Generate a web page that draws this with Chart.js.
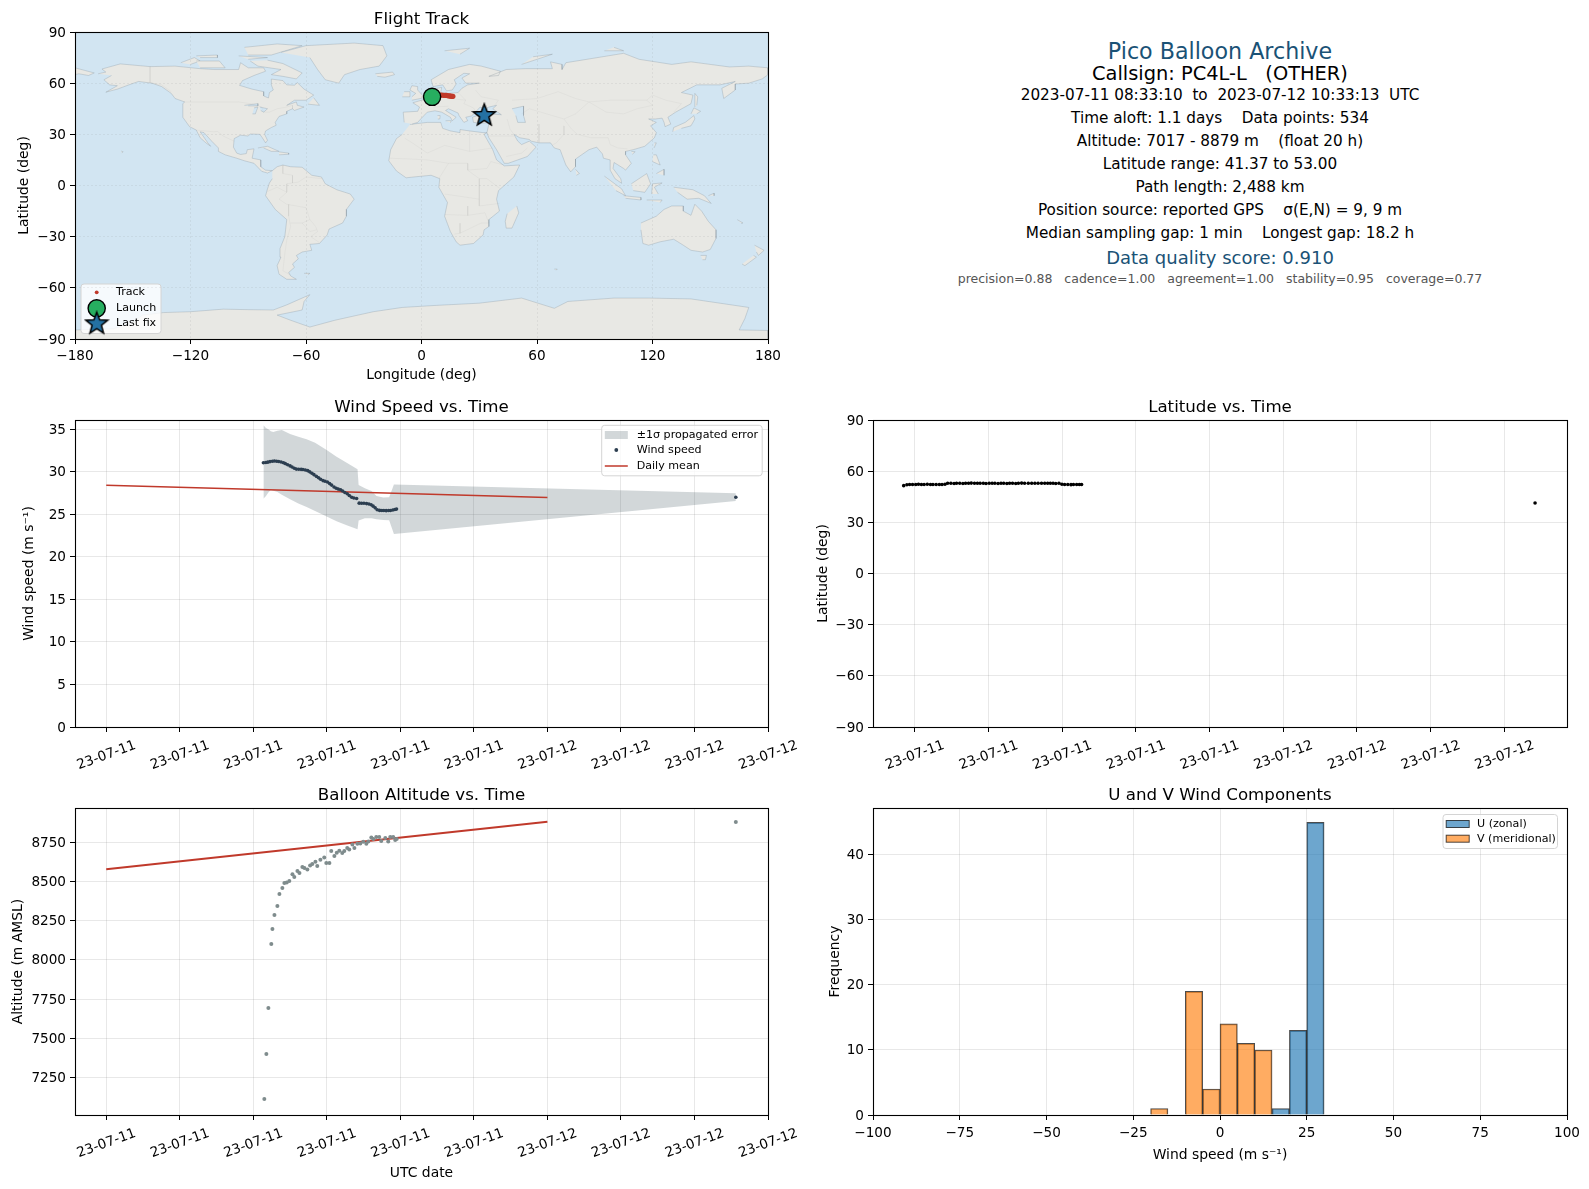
<!DOCTYPE html>
<html>
<head>
<meta charset="utf-8">
<title>Pico Balloon Archive</title>
<script src="https://cdn.jsdelivr.net/npm/chart.js@4/dist/chart.umd.js"></script>
<style>
  body { margin: 0; background: #fff; width: 1589px; height: 1189px; position: relative; overflow: hidden; font-family: "DejaVu Sans", sans-serif; }
  canvas { position: absolute; }
  .info { position: absolute; left: 820px; width: 800px; text-align: center; white-space: pre; transform: translateY(-50%); color: #000; font-size: 15.25px; }
</style>
</head>
<body>
<canvas id="mapChart" width="800" height="392" style="left:0;top:0"></canvas>
<canvas id="windChart" width="800" height="392" style="left:0;top:388px"></canvas>
<canvas id="latChart" width="789" height="392" style="left:800px;top:388px"></canvas>
<canvas id="altChart" width="800" height="413" style="left:0;top:776px"></canvas>
<canvas id="histChart" width="789" height="413" style="left:800px;top:776px"></canvas>

<div class="info" style="top:51px;font-size:22.2px;color:#1a5276">Pico Balloon Archive</div>
<div class="info" style="top:73px;font-size:19.4px">Callsign: PC4L-L   (OTHER)</div>
<div class="info" style="top:95px">2023-07-11 08:33:10  to  2023-07-12 10:33:13  UTC</div>
<div class="info" style="top:118px">Time aloft: 1.1 days    Data points: 534</div>
<div class="info" style="top:141px">Altitude: 7017 - 8879 m    (float 20 h)</div>
<div class="info" style="top:164px">Latitude range: 41.37 to 53.00</div>
<div class="info" style="top:187px">Path length: 2,488 km</div>
<div class="info" style="top:210px">Position source: reported GPS    σ(E,N) = 9, 9 m</div>
<div class="info" style="top:233px">Median sampling gap: 1 min    Longest gap: 18.2 h</div>
<div class="info" style="top:257px;font-size:18px;color:#1a5276">Data quality score: 0.910</div>
<div class="info" style="top:278px;font-size:12.5px;color:#555">precision=0.88   cadence=1.00   agreement=1.00   stability=0.95   coverage=0.77</div>

<script>
// --- Ticks ---
const lonTicks = [-180, -120, -60, 0, 60, 120, 180];
const latTicks = [-90, -60, -30, 0, 30, 60, 90];
const windTicks = [0, 5, 10, 15, 20, 25, 30, 35];
const altTicks = [7250, 7500, 7750, 8000, 8250, 8500, 8750];
const freqTicks = [0, 10, 20, 30, 40];
const histTicks = [-100, -75, -50, -25, 0, 25, 50, 75, 100];
// hours since 2023-07-11 00:00 UTC
const wideTimeTicks = [0, 4, 8, 12, 16, 20, 24, 28, 32, 36];
const wideTimeLabels = ['23-07-11', '23-07-11', '23-07-11', '23-07-11', '23-07-11', '23-07-11', '23-07-12', '23-07-12', '23-07-12', '23-07-12'];
const latTimeTicks = [9, 12, 15, 18, 21, 24, 27, 30, 33];
const latTimeLabels = ['23-07-11', '23-07-11', '23-07-11', '23-07-11', '23-07-11', '23-07-12', '23-07-12', '23-07-12', '23-07-12'];

// --- Flight data ---
const trackLon = [5.5, 7.0, 8.5, 9.5, 10.5, 11.5, 12.3, 13.0, 13.8, 14.5, 15.2, 15.8, 16.3];
const trackLat = [52.0, 52.4, 52.8, 53.0, 53.0, 52.9, 52.9, 52.8, 52.6, 52.6, 52.4, 52.3, 52.3];
const launchPoint = [5.5, 52.0];
const lastFixPoint = [32.6, 41.37];

const sampleHours = [8.55, 8.68, 8.79, 8.91, 9.04, 9.15, 9.27, 9.38, 9.51, 9.64, 9.74, 9.87, 10.0, 10.11, 10.23, 10.34, 10.47, 10.6, 10.7, 10.83, 10.96, 11.07, 11.19, 11.3, 11.43, 11.55, 11.66, 11.79, 11.9, 12.03, 12.15, 12.26, 12.39, 12.51, 12.62, 12.75, 12.86, 12.98, 13.11, 13.22, 13.35, 13.47, 13.62, 13.76, 13.89, 14.02, 14.16, 14.29, 14.41, 14.52, 14.63, 14.74, 14.87, 14.99, 15.1, 15.23, 15.36, 15.46, 15.59, 15.7, 15.79, 34.25];
const windSpeed = [31.05, 31.08, 31.12, 31.18, 31.22, 31.25, 31.22, 31.2, 31.14, 31.05, 30.95, 30.82, 30.68, 30.55, 30.4, 30.3, 30.28, 30.27, 30.26, 30.2, 30.12, 29.98, 29.82, 29.65, 29.45, 29.28, 29.1, 28.95, 28.88, 28.78, 28.6, 28.42, 28.2, 28.05, 27.95, 27.88, 27.72, 27.55, 27.4, 27.2, 27.0, 26.9, 26.85, 26.3, 26.28, 26.28, 26.25, 26.2, 26.12, 25.95, 25.75, 25.52, 25.45, 25.43, 25.43, 25.42, 25.43, 25.44, 25.5, 25.55, 25.6, 27.0];
const latitude = [51.5, 52.0, 52.2, 52.2, 52.2, 52.3, 52.2, 52.2, 52.3, 52.2, 52.2, 52.2, 52.2, 52.2, 52.3, 52.9, 52.9, 52.8, 52.9, 52.9, 52.8, 52.9, 52.9, 53.0, 52.9, 52.9, 52.9, 52.9, 52.8, 52.9, 52.9, 52.9, 52.8, 52.9, 52.9, 52.8, 52.9, 52.9, 52.8, 52.9, 53.0, 52.9, 52.9, 52.9, 52.9, 52.9, 52.9, 52.9, 52.9, 52.9, 52.9, 52.8, 52.9, 52.3, 52.2, 52.2, 52.1, 52.2, 52.2, 52.2, 52.2, 41.37];

const bandHours = [8.55, 8.69, 8.82, 8.95, 9.09, 9.31, 9.55, 10.0, 10.45, 10.9, 11.36, 11.99, 12.53, 13.08, 13.67, 13.73, 14.07, 14.43, 14.7, 15.07, 15.39, 15.65, 34.25];
const bandHigh = [35.44, 35.13, 34.97, 34.74, 34.66, 34.81, 34.89, 34.42, 34.11, 33.8, 33.41, 32.55, 31.76, 31.06, 30.28, 28.44, 28.05, 27.73, 27.15, 26.95, 26.99, 28.48, 27.45];
const bandLow = [26.83, 27.15, 27.54, 27.85, 27.77, 27.62, 27.3, 26.76, 26.25, 25.86, 25.39, 24.72, 24.17, 23.7, 23.24, 24.25, 24.53, 24.53, 24.41, 24.33, 24.29, 22.69, 26.55];

const meanHours = [0, 24];
const meanWind = [28.39, 26.96];
const meanAlt = [8578, 8881];

const altHours = [8.60, 8.71, 8.82, 8.98, 9.04, 9.15, 9.31, 9.42, 9.58, 9.69, 9.82, 9.96, 10.13, 10.23, 10.40, 10.51, 10.67, 10.78, 10.94, 11.09, 11.21, 11.38, 11.48, 11.65, 11.86, 11.97, 12.14, 12.24, 12.41, 12.54, 12.68, 12.84, 12.95, 13.11, 13.22, 13.39, 13.50, 13.66, 13.82, 13.98, 14.15, 14.26, 14.42, 14.53, 14.69, 14.85, 14.96, 15.18, 15.34, 15.45, 15.61, 15.72, 15.80, 34.25];
const altitude = [7113, 7400, 7693, 8101, 8196, 8286, 8343, 8420, 8458, 8490, 8493, 8502, 8545, 8528, 8566, 8553, 8592, 8585, 8576, 8602, 8611, 8625, 8598, 8638, 8653, 8617, 8617, 8694, 8662, 8683, 8695, 8681, 8694, 8713, 8704, 8736, 8713, 8740, 8742, 8753, 8740, 8755, 8780, 8770, 8783, 8783, 8757, 8776, 8755, 8783, 8783, 8764, 8770, 8878];

const uBinCentres = [17.5, 22.5, 27.5];
const uCounts = [1, 13, 45];
const vBinCentres = [-17.5, -7.5, -2.5, 2.5, 7.5, 12.5];
const vCounts = [1, 19, 4, 14, 11, 10];

// --- Map outlines [lon, lat] ---
const northAmerica = [[-168,65.5],[-164,66.5],[-166,68.3],[-156.5,71.3],[-141,69.7],[-128,70],[-115,68.5],[-108,68],[-95,68],[-94,72],[-90,69],[-82,69],[-81,67],[-87,64.5],[-93,61.5],[-94.5,58.7],[-88,56.5],[-82,55],[-82,52.5],[-79.5,51.3],[-79,54.5],[-77,56],[-78,59],[-78,62.4],[-72,61.5],[-70,59],[-66,58.8],[-64.5,60.3],[-61,56.5],[-56,53],[-60,50],[-66,50],[-70,47],[-65,49],[-64.5,47],[-61,46],[-66,44],[-67,45],[-70,43.5],[-70,42],[-74,40.5],[-76,37],[-75.5,35.3],[-78,34],[-81,32],[-81.5,30],[-80,26.5],[-81,25],[-82.7,28],[-84,30],[-89,30.2],[-90,29],[-94,29.5],[-97.3,27.5],[-97.7,22.5],[-96,19],[-94,18.2],[-91,18.7],[-90.5,21],[-87,21.5],[-88,16],[-83.5,15],[-83.5,11],[-81,9],[-77.5,8.7],[-80,7.3],[-83,8.3],[-87,13],[-92,14.5],[-96,16],[-102,18],[-105.5,20],[-105.5,22],[-109,26],[-113,31],[-115,31.5],[-111,25],[-109.5,23],[-112,25],[-115,28],[-117,32.5],[-120.5,34.5],[-124,40],[-124,48],[-123,49],[-128,51],[-130,54],[-135,58],[-140,60],[-147,61],[-152,59],[-158,56.5],[-164,54.7],[-158,58.5],[-162,59],[-165,62],[-161,64.5]];
const southAmerica = [[-77.5,8.7],[-75,11],[-72,12],[-68,11],[-62,10.7],[-57,6],[-52,5],[-50,1],[-44,-2.5],[-37,-5],[-35,-8],[-39,-14],[-39,-18],[-41,-22],[-48,-25.5],[-49,-29],[-53,-34],[-58,-34.5],[-57,-38],[-62,-39],[-65,-41],[-64,-43],[-67,-46],[-66,-48],[-69,-51],[-68,-53],[-65,-55],[-70,-55],[-74,-52],[-75,-47],[-73,-42],[-73.5,-37],[-71,-30],[-70,-20],[-76,-14],[-81,-6],[-80,-2],[-79,1.5],[-77.5,4]];
const greenland = [[-73,78],[-60,82],[-35,83.5],[-20,82],[-18,76],[-22,70],[-32,68],[-40,65],[-43,60],[-50,62],[-54,68],[-58,75]];
const baffin = [[-80,73.5],[-72,71.5],[-62,66],[-65,62.5],[-72,64],[-78,65],[-73,68],[-85,70],[-89,73]];
const victoriaIsland = [[-117,73],[-105,73],[-102,69],[-115,69]];
const ellesmere = [[-90,76.5],[-78,76.5],[-62,82],[-75,83],[-92,81]];
const banksIsland = [[-125,72],[-118,75],[-115,73],[-120,71]];
const devonIsland = [[-95,76],[-80,75],[-90,74]];
const melvilleIsland = [[-117,76],[-106,76.5],[-106,75],[-115,75]];
const newfoundland = [[-59,47.7],[-53,47],[-56,51.5]];
const cuba = [[-85,22],[-80,23],[-74,20],[-78,20],[-82,22]];
const hispaniola = [[-74,19.7],[-69,19],[-69,18.3],[-74,18]];
const chukotkaEdge = [[-180,69],[-175,67.5],[-170,66],[-173,64.5],[-178,65.5],[-180,65]];
const eurasia = [[-9,37],[-9.5,43],[-2,43.5],[-1,46],[-4.5,48.5],[1.5,50.5],[4,52],[8,54],[8,57],[10.5,57.5],[10,54.5],[14,54],[19,54.5],[21,57],[24,59],[30,60],[23,60],[21,63],[25,65.5],[22,65.8],[17,62],[18,59.5],[16,56],[13,55.5],[11,59],[6,58],[5,62],[14,68],[25,71],[31,70],[41,67],[40,64.5],[35,64],[44,68],[54,68.5],[68,68.5],[67,72.5],[73,71],[73,68],[75,72],[86,74],[105,77.5],[113,74],[130,71],[140,72.5],[160,69.5],[170,70],[180,69],[180,65],[177,62.5],[170,60],[163,59.5],[163,56],[157,51],[156,57],[163,61],[155,59],[143,59],[135,54.5],[141,53],[140,48],[132,43],[128,40],[129.5,36],[126.5,34.5],[126,37],[125,39.5],[121.5,39],[118,39],[122,37],[119,35],[122,31],[121,28],[116,23],[110,21],[106,20],[106,18],[109,13],[106,9],[105,10],[100,13.5],[99.5,10],[103.5,4],[104,1.3],[100.5,4],[98,9],[98,15],[94.5,16],[94,18.5],[91,22.5],[87,21],[80,15.5],[80,11],[77.5,8],[75,12],[73,18],[72,21],[69,22],[67,25],[61,25],[57,26],[56,27],[51,28],[48,30],[50,26],[52,24],[56,26],[59.5,22.5],[55,17],[45,13],[43,13],[39,21],[35,28],[34,31],[35,36],[36,37],[31,36.5],[27,37],[26.5,40],[29,41],[35,42],[41.5,41.5],[37,45],[39,47],[35,46],[33,45],[30.5,46],[28,43],[26,40.8],[23,40],[24,38],[22,37],[19.5,41],[19,42.5],[14,45],[12.5,44],[18,40],[16,38],[15,40],[10.5,43],[7,43.8],[3,43],[0,39.5],[-2,37],[-5,36]];
const africa = [[-6,35.8],[3,37],[10,37],[11,33.5],[15,32],[20,31],[20,32.8],[25,32],[32,31],[34,31],[32.5,30],[34,27],[37,21],[39,15],[43,11.5],[51,12],[48,5],[40,-3],[39,-8],[40.5,-15],[35,-20],[35,-24],[32.5,-26],[32,-29],[27,-34],[20,-35],[18,-33],[15,-27],[12,-18],[13.5,-10],[9,-1],[9.5,4],[5,6],[-4,5],[-8,4.5],[-13,8.5],[-17,14.5],[-16,21],[-13,27.5],[-10,30]];
const madagascar = [[49.5,-12],[50.5,-16],[47,-25],[44,-25],[43.5,-21],[44.5,-16.5]];
const australia = [[114,-22],[122,-18],[126,-14],[130,-12],[136,-12],[136,-15],[140,-17.5],[142,-11],[145.5,-15],[149,-21],[153,-26],[153,-31],[150,-37.5],[146,-39],[140,-38],[136,-35],[131,-31.5],[124,-33],[118,-35],[115,-34],[114,-26]];
const tasmania = [[145,-41],[148,-41],[147.5,-43.5],[146,-43.5]];
const nzNorth = [[173,-35],[178,-38],[175,-41],[174,-39]];
const nzSouth = [[172.5,-41],[174,-42],[168,-47],[166.5,-46]];
const newGuinea = [[131,-1],[141,-2.5],[147,-6],[150.5,-10.5],[144,-7.5],[138,-8],[133,-4]];
const newBritain = [[149,-6],[152,-4.5],[152,-6]];
const borneo = [[109,1],[117,7],[119,1],[116,-4],[110,-3]];
const sumatra = [[95,5.5],[104,-2],[106,-6],[101,-3]];
const java = [[105,-6],[114,-7],[114,-8.5],[106,-7.5]];
const timor = [[117,-8.5],[125,-8.5],[124,-10]];
const sulawesi = [[119.5,-5],[120,1],[125,1.5],[121,-1],[123,-5]];
const luzon = [[120.5,18],[122,18],[124,12],[120,14]];
const mindanao = [[122,7],[126,9.5],[126,6]];
const honshu = [[130.5,31.5],[131,34],[137,37],[141.5,41],[142,39],[140,35],[135,33.5]];
const hokkaido = [[140,42],[141.5,45.5],[145,43.5],[143,42]];
const sakhalin = [[142,46],[142,54],[143.5,52],[143,47]];
const sriLanka = [[80,9.5],[82,7],[80.5,6]];
const taiwan = [[121,25],[122,25],[120.8,22]];
const hainan = [[109,20],[111,19.8],[109.5,18.3]];
const britain = [[-5,50],[1.5,51.5],[0,53.5],[-2,56],[-2,58],[-5,58.5],[-6,56],[-3,54],[-5,52]];
const ireland = [[-10,52],[-6,52],[-6,55],[-9,55]];
const iceland = [[-24,65.5],[-15,66.5],[-14,65],[-19,63.5],[-23,64]];
const svalbard = [[12,79],[25,80.5],[20,77]];
const novayaZemlya = [[52,71],[68,77],[58,75.5]];
const severnaya = [[95,79],[105,79],[100,81]];
const sicily = [[12.5,38],[15.5,38],[15,36.8]];
const sardinia = [[8.3,41],[9.7,41],[9.5,39],[8.5,39]];
const hawaii = [[-156,20.2],[-155,19.8],[-155.7,19]];
const falkland = [[-61,-51.5],[-58,-51.5],[-59,-52.3]];
const newCaledonia = [[164,-20],[167,-22],[166,-22.2]];
const kerguelen = [[69,-49],[70.5,-49],[70,-49.7]];
const antarctica = [[-180,-90],[-180,-84.7],[-160,-84],[-150,-80],[-145,-76],[-134,-74.5],[-120,-74],[-103,-72.5],[-90,-72.8],[-77,-73],[-70,-70],[-58,-64],[-61,-68],[-62,-73],[-75,-76],[-68,-79],[-58,-83],[-45,-79],[-37,-77],[-25,-74],[-10,-71.5],[7.5,-70.3],[30,-69],[52,-66],[69,-72],[76,-68],[100,-66],[118,-66],[140,-66.5],[170,-71.5],[168,-78],[165,-84.7],[180,-85],[180,-90]];
const caspianSea = [[47,45],[53,46.5],[53,41],[54,37],[50,37],[49,41]];
const lakeSuperior = [[-92,47],[-85,48],[-85,46.7],[-90,46.7]];
const lakeMichigan = [[-87.8,42],[-86.3,42],[-85,46],[-87,45.5]];
const lakeHuron = [[-84,46],[-80,45],[-82,43],[-83.5,44]];
const landShapes = [northAmerica, southAmerica, greenland, baffin, victoriaIsland, ellesmere, banksIsland, devonIsland, melvilleIsland, newfoundland, cuba, hispaniola, chukotkaEdge, eurasia, africa, madagascar, australia, tasmania, nzNorth, nzSouth, newGuinea, newBritain, borneo, sumatra, java, timor, sulawesi, luzon, mindanao, honshu, hokkaido, sakhalin, sriLanka, taiwan, hainan, britain, ireland, iceland, svalbard, novayaZemlya, severnaya, sicily, sardinia, hawaii, falkland, newCaledonia, kerguelen, antarctica];
const waterShapes = [caspianSea, lakeSuperior, lakeMichigan, lakeHuron];
const borderLines = [
  [[-141,69.7],[-141,60.3],[-135,59],[-130,55]],
  [[-123,49],[-95,49],[-89,48],[-83,46],[-82,43],[-79,43],[-75,45],[-70,46],[-67,47],[-67,45]],
  [[-117,32.5],[-108,31.5],[-106,31.7],[-103,29],[-97.3,26]],
  [[-51.5,4],[-60,5],[-64,2],[-70,1],[-70,-4],[-74,-8],[-70,-11],[-60,-13],[-58,-20],[-55,-24],[-54,-27],[-57.5,-30],[-53,-33.5]],
  [[-69,-18],[-68,-24],[-70,-32],[-71,-40],[-72,-50],[-68,-52.5]],
  [[-72,12],[-72,7],[-67,6],[-67,1.5]],
  [[-80,-3.5],[-75,-1],[-70,-4]],
  [[-69,-11],[-69,-18]],
  [[-68,-22],[-62,-22],[-58,-20]],
  [[-62,-22],[-58,-27],[-54.5,-26]],
  [[-8.7,27.7],[-4.8,25],[3,19],[12,23.5],[25,20],[25,32]],
  [[25,20],[37,22]],
  [[-16.5,16],[-5,15.5],[3,15],[14,13],[24,13],[24,9],[34,10],[36,14],[43,12]],
  [[14,13],[9,4]],
  [[24,9],[30,4],[34,4],[41,-2]],
  [[12,-5],[30,-8],[30,-12],[40.5,-10.5]],
  [[12,-17],[24,-17.5],[33,-16],[35,-22],[31,-22],[20,-28],[17,-28.5]],
  [[20,-22],[20,-28]],
  [[24,-12],[24,-17.5]],
  [[30,4],[30,-8]],
  [[28,56],[31,52],[40,50],[38,47]],
  [[47,50],[60,51],[71,55],[80,51],[87,49],[98,50],[107,50],[117,50],[120,53],[127,50],[135,48],[131,43]],
  [[87,49],[96,43],[105,42],[112,45],[120,47],[117,50]],
  [[74,39],[80,42],[87,49]],
  [[74,39],[78,33],[81,30],[88,28],[97,28],[98,24],[102,22],[107,21.5]],
  [[74,35],[74,30],[70,25],[68,23.7]],
  [[44.5,39],[46,33],[48,30]],
  [[61,36],[61,25.2]],
  [[52,42],[56,45],[62,43],[68,41],[74,39]],
  [[19,54.5],[23,50],[22,48],[27,45.5],[28,43.8]],
  [[8,48],[8,54]],
  [[6,46],[14,46.5]],
  [[14,54],[15,51],[23,50]],
  [[35,29],[45,29],[48,29]],
  [[44,17],[52,19],[55,22]]
];

// --- Helpers ---
const toPoints = (xs, ys) => xs.map((x, i) => ({ x, y: ys[i] }));
const toShape = pairs => pairs.map(([x, y]) => ({ x, y }));
const INK = '#000';
const FONT = '"DejaVu Sans"';
const TICK_SIZE = 13.6;
const LABEL_SIZE = 13.9;
const GRID = 'rgba(128,128,128,0.18)';
const MAP_GRID = { z: 1, color: 'rgba(128,128,128,0.2)', lineWidth: 0.6 };
const BAND_FILL = 'rgba(52,73,80,0.22)';

// five point star for the last fix, Chart.js only has a line one
const starMarker = (() => {
  const c = document.createElement('canvas');
  c.width = 26; c.height = 26;
  const g = c.getContext('2d');
  g.beginPath();
  for (let i = 0; i < 10; i++) {
    const r = i % 2 ? 4.9 : 11.6;
    const a = -Math.PI / 2 + i * Math.PI / 5;
    g[i ? 'lineTo' : 'moveTo'](13 + r * Math.cos(a), 13.5 + r * Math.sin(a));
  }
  g.closePath();
  g.fillStyle = '#2471a3';
  g.fill();
  g.lineWidth = 1.5;
  g.strokeStyle = '#000';
  g.stroke();
  return c;
})();

const legendSymbol = (g, kind, x, y) => {
  g.save();
  if (kind === 'track') {
    g.fillStyle = '#c0392b';
    g.beginPath(); g.arc(x, y, 1.9, 0, 7); g.fill();
  } else if (kind === 'launch') {
    g.fillStyle = '#27ae60'; g.strokeStyle = '#000'; g.lineWidth = 1.4;
    g.beginPath(); g.arc(x, y, 8.6, 0, 7); g.fill(); g.stroke();
  } else if (kind === 'star') {
    g.drawImage(starMarker, x - 13, y - 13);
  } else if (kind === 'band') {
    g.fillStyle = BAND_FILL;
    g.fillRect(x - 11.5, y - 4, 23, 8);
  } else if (kind === 'wind') {
    g.fillStyle = '#2c3e50';
    g.beginPath(); g.arc(x, y, 1.9, 0, 7); g.fill();
  } else if (kind === 'mean') {
    g.strokeStyle = '#c0392b'; g.lineWidth = 1.5;
    g.beginPath(); g.moveTo(x - 11.5, y); g.lineTo(x + 11.5, y); g.stroke();
  } else {
    g.fillStyle = kind === 'u' ? 'rgba(31,119,180,0.65)' : 'rgba(255,127,14,0.65)';
    g.strokeStyle = 'rgba(0,0,0,0.7)'; g.lineWidth = 1;
    g.fillRect(x - 11.5, y - 3.5, 23, 7);
    g.strokeRect(x - 11.5, y - 3.5, 23, 7);
  }
  g.restore();
};

// legend boxes sit inside the plot, in chart-local pixels
const legendPlugin = {
  id: 'boxLegend',
  afterDatasetsDraw(chart, args, opts) {
    if (!opts.items) return;
    const g = chart.ctx;
    g.save();
    g.beginPath();
    g.roundRect(opts.x, opts.y, opts.w, opts.h, 3);
    g.fillStyle = 'rgba(255,255,255,0.8)';
    g.fill();
    g.strokeStyle = '#d4d4d4';
    g.lineWidth = 1;
    g.stroke();
    g.font = `11.1px ${FONT}`;
    g.fillStyle = INK;
    g.textBaseline = 'middle';
    opts.items.forEach(it => {
      legendSymbol(g, it.kind, opts.symbolX, it.y);
      g.fillText(it.label, opts.textX, it.y);
    });
    g.restore();
  }
};

const framePlugin = {
  id: 'frame',
  beforeDraw(chart, args, opts) {
    const { left, top, width, height } = chart.chartArea;
    if (opts.background) {
      chart.ctx.fillStyle = opts.background;
      chart.ctx.fillRect(left, top, width, height);
    }
    // tick labels are centred on the tick and not hung from their end
    const sx = chart.scales.x;
    if (opts.labelDrop) {
      sx.getLabelItems().forEach(item => {
        item.textOffset = 0;
        item.options.textAlign = 'center';
        item.options.textBaseline = 'middle';
        item.options.translation = [item.options.translation[0] + 3, sx.top + opts.labelDrop];
      });
    }
    chart.scales.y.getLabelItems().forEach(item => {
      item.options.translation = [item.options.translation[0], item.options.translation[1] + 1];
    });
  },
  afterDraw(chart) {
    const { left, top, width, height } = chart.chartArea;
    const g = chart.ctx;
    g.save();
    g.strokeStyle = INK;
    g.lineWidth = 1.1;
    g.strokeRect(left + 0.5, top + 0.5, width, height);
    g.restore();
  }
};

const xScale = ({ min, max, ticks, labels, rotate, bottomSpace, title, titleGap, grid, dash, tickGap }) => ({
  type: 'linear',
  min, max,
  offset: false,
  afterBuildTicks: s => { s.ticks = ticks.map(value => ({ value })); },
  afterFit: s => { s.height = bottomSpace; s.paddingLeft = 0; s.paddingRight = 0; },
  ticks: {
    color: INK,
    autoSkip: false,
    font: { family: FONT, size: TICK_SIZE },
    padding: tickGap || 4,
    minRotation: rotate ? 20 : 0,
    maxRotation: rotate ? 20 : 0,
    callback: (v, i) => labels ? labels[i] : String(v).replace('-', '\u2212')
  },
  grid: Object.assign({ color: GRID, lineWidth: 1, tickColor: INK, tickLength: 5, tickWidth: 1, offset: false }, grid),
  border: { display: false, dash: dash || [] },
  title: title ? { display: true, text: title, color: INK, font: { family: FONT, size: LABEL_SIZE }, padding: { top: titleGap, bottom: titleGap } } : { display: false }
});

const yScale = ({ min, max, ticks, leftSpace, title, titleGap, grid, dash }) => ({
  type: 'linear',
  min, max,
  afterBuildTicks: s => { s.ticks = ticks.map(value => ({ value })); },
  afterFit: s => { s.width = leftSpace; s.paddingTop = 0; s.paddingBottom = 0; },
  ticks: {
    color: INK,
    autoSkip: false,
    font: { family: FONT, size: TICK_SIZE },
    padding: 4,
    callback: v => String(v).replace('-', '\u2212')
  },
  grid: Object.assign({ color: GRID, lineWidth: 1, tickColor: INK, tickLength: 5, tickWidth: 1 }, grid),
  border: { display: false, dash: dash || [] },
  title: { display: true, text: title, color: INK, font: { family: FONT, size: LABEL_SIZE }, padding: { top: titleGap, bottom: titleGap } }
});

const baseOptions = (title, rightSpace, scales, extra) => ({
  responsive: false,
  devicePixelRatio: 1,
  animation: false,
  layout: { padding: { left: 0, right: rightSpace, top: 0, bottom: 0 } },
  scales,
  plugins: Object.assign({
    legend: { display: false },
    tooltip: { enabled: false },
    title: {
      display: true,
      text: title,
      color: INK,
      fullSize: false,
      font: { family: FONT, size: 16.67, weight: 'normal', lineHeight: 1.2 },
      padding: { top: 9.5, bottom: 32 - 9.5 - 16.67 * 1.2 }
    }
  }, extra)
});

// --- Flight track map ---
const landSets = landShapes.map(shape => ({
  data: toShape(shape), showLine: true, fill: 'shape', pointRadius: 0, tension: 0,
  backgroundColor: '#e8e8e4', borderColor: 'rgba(120,135,145,0.35)', borderWidth: 0.8, order: 10
}));
const waterSets = waterShapes.map(shape => ({
  data: toShape(shape), showLine: true, fill: 'shape', pointRadius: 0, tension: 0,
  backgroundColor: '#d2e5f2', borderColor: 'rgba(120,135,145,0.35)', borderWidth: 0.8, order: 9
}));
const borderSets = borderLines.map(line => ({
  data: toShape(line), showLine: true, fill: false, pointRadius: 0, tension: 0,
  borderColor: 'rgba(150,150,150,0.15)', borderWidth: 0.6, order: 8
}));

new Chart(document.getElementById('mapChart'), {
  type: 'scatter',
  plugins: [framePlugin, legendPlugin],
  data: {
    datasets: [
      ...landSets, ...waterSets, ...borderSets,
      { label: 'Track', data: toPoints(trackLon, trackLat), pointRadius: 2.6, pointBorderWidth: 0, pointBackgroundColor: '#c0392b', order: 3 },
      { label: 'Launch', data: [{ x: launchPoint[0], y: launchPoint[1] }], pointRadius: 8.6, pointBorderWidth: 1.4, pointBorderColor: '#000', pointBackgroundColor: '#27ae60', order: 2 },
      { label: 'Last fix', data: [{ x: lastFixPoint[0], y: lastFixPoint[1] }], pointStyle: starMarker, order: 1 }
    ]
  },
  options: baseOptions('Flight Track', 32, {
    x: xScale({ min: -180, max: 180, ticks: lonTicks, bottomSpace: 53, title: 'Longitude (deg)', titleGap: 8, grid: MAP_GRID, dash: [2, 2] }),
    y: yScale({ min: -90, max: 90, ticks: latTicks, leftSpace: 75, title: 'Latitude (deg)', titleGap: 15.7, grid: MAP_GRID, dash: [2, 2] })
  }, {
    frame: { background: '#d2e5f2' },
    boxLegend: {
      x: 81, y: 284, w: 80, h: 49.5, symbolX: 96.7, textX: 116,
      items: [
        { kind: 'track', label: 'Track', y: 292.3 },
        { kind: 'launch', label: 'Launch', y: 308.3 },
        { kind: 'star', label: 'Last fix', y: 323.3 }
      ]
    }
  })
});

// --- Wind speed ---
new Chart(document.getElementById('windChart'), {
  type: 'scatter',
  plugins: [framePlugin, legendPlugin],
  data: {
    datasets: [
      { label: 'high', data: toPoints(bandHours, bandHigh), showLine: true, tension: 0, pointRadius: 0, borderWidth: 0, fill: '+1', backgroundColor: BAND_FILL, order: 5 },
      { label: 'low', data: toPoints(bandHours, bandLow), showLine: true, tension: 0, pointRadius: 0, borderWidth: 0, order: 6 },
      { label: 'Daily mean', data: toPoints(meanHours, meanWind), showLine: true, tension: 0, pointRadius: 0, borderWidth: 1.5, borderColor: '#c0392b', order: 2 },
      { label: 'Wind speed', data: toPoints(sampleHours, windSpeed), pointRadius: 1.8, pointBorderWidth: 0, pointBackgroundColor: '#2c3e50', order: 1 }
    ]
  },
  options: baseOptions('Wind Speed vs. Time', 32, {
    x: xScale({ min: -1.7, max: 36, ticks: wideTimeTicks, labels: wideTimeLabels, rotate: true, bottomSpace: 53 }),
    y: yScale({ min: 0, max: 36.07, ticks: windTicks, leftSpace: 75, title: 'Wind speed (m s\u207B\u00B9)', titleGap: 21.5 })
  }, {
    frame: { labelDrop: 28.5 },
    boxLegend: {
      x: 601.7, y: 37.3, w: 160.5, h: 50.5, symbolX: 616.3, textX: 636.7,
      items: [
        { kind: 'band', label: '\u00B11\u03C3 propagated error', y: 47 },
        { kind: 'wind', label: 'Wind speed', y: 62 },
        { kind: 'mean', label: 'Daily mean', y: 78 }
      ]
    }
  })
});

// --- Latitude ---
new Chart(document.getElementById('latChart'), {
  type: 'scatter',
  plugins: [framePlugin],
  data: { datasets: [{ label: 'Latitude', data: toPoints(sampleHours, latitude), pointRadius: 1.8, pointBorderWidth: 0, pointBackgroundColor: '#000' }] },
  options: baseOptions('Latitude vs. Time', 22, {
    x: xScale({ min: 7.3, max: 35.55, ticks: latTimeTicks, labels: latTimeLabels, rotate: true, bottomSpace: 53 }),
    y: yScale({ min: -90, max: 90, ticks: latTicks, leftSpace: 73, title: 'Latitude (deg)', titleGap: 14.7 })
  }, { frame: { labelDrop: 28.5 } })
});

// --- Altitude ---
new Chart(document.getElementById('altChart'), {
  type: 'scatter',
  plugins: [framePlugin],
  data: {
    datasets: [
      { label: 'Daily mean', data: toPoints(meanHours, meanAlt), showLine: true, tension: 0, pointRadius: 0, borderWidth: 2, borderColor: '#c0392b', order: 2 },
      { label: 'Altitude', data: toPoints(altHours, altitude), pointRadius: 2, pointBorderWidth: 0, pointBackgroundColor: '#7f8c8d', order: 1 }
    ]
  },
  options: baseOptions('Balloon Altitude vs. Time', 32, {
    x: xScale({ min: -1.7, max: 36, ticks: wideTimeTicks, labels: wideTimeLabels, rotate: true, bottomSpace: 74, title: 'UTC date', titleGap: 7.7 }),
    y: yScale({ min: 7011, max: 8968, ticks: altTicks, leftSpace: 75, title: 'Altitude (m AMSL)', titleGap: 9.7 })
  }, { frame: { labelDrop: 28.5 } })
});

// --- U and V histogram ---
const BIN_PX = 5 * 694 / 200;
new Chart(document.getElementById('histChart'), {
  type: 'bar',
  plugins: [framePlugin, legendPlugin],
  data: {
    datasets: [
      { label: 'U (zonal)', data: toPoints(uBinCentres, uCounts), backgroundColor: 'rgba(31,119,180,0.65)', borderColor: 'rgba(0,0,0,0.7)', borderWidth: 1, barThickness: BIN_PX, grouped: false },
      { label: 'V (meridional)', data: toPoints(vBinCentres, vCounts), backgroundColor: 'rgba(255,127,14,0.65)', borderColor: 'rgba(0,0,0,0.7)', borderWidth: 1, barThickness: BIN_PX, grouped: false }
    ]
  },
  options: baseOptions('U and V Wind Components', 22, {
    x: xScale({ min: -100, max: 100, ticks: histTicks, bottomSpace: 74, title: 'Wind speed (m s\u207B\u00B9)', titleGap: 25, tickGap: 5 }),
    y: yScale({ min: 0, max: 47.2, ticks: freqTicks, leftSpace: 73, title: 'Frequency', titleGap: 26.7 })
  }, {
    boxLegend: {
      x: 643, y: 38.5, w: 114.5, h: 34, symbolX: 657.7, textX: 677,
      items: [
        { kind: 'u', label: 'U (zonal)', y: 48 },
        { kind: 'v', label: 'V (meridional)', y: 62.7 }
      ]
    }
  })
});
</script>
</body>
</html>
